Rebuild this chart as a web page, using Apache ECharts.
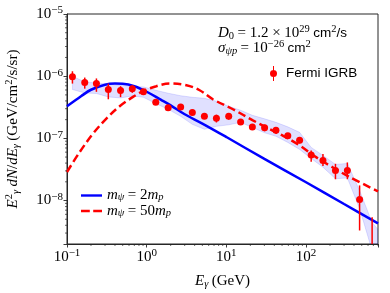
<!DOCTYPE html>
<html><head><meta charset="utf-8">
<script src="https://cdn.jsdelivr.net/npm/echarts@6/dist/echarts.min.js"></script>
<style>html,body{margin:0;padding:0;background:#fff}#c{width:390px;height:293px}</style>
</head><body><div id="c"></div>
<script>
// ---- data ----
const igrbE    = [0.117,0.167,0.234,0.33,0.47,0.66,0.91,1.3,1.86,2.67,3.74,5.3,7.5,10.7,15.1,21.2,30.2,41.9,59,83,116,163,234,330,470,675];
const igrbFlux = [9.8e-7,7.9e-7,7.6e-7,6.1e-7,5.9e-7,6.3e-7,5.6e-7,3.8e-7,3.1e-7,3.2e-7,2.6e-7,2.27e-7,2.1e-7,2.27e-7,1.83e-7,1.52e-7,1.48e-7,1.35e-7,1.1e-7,9.3e-8,5.4e-8,4.4e-8,3.05e-8,3.05e-8,1.04e-8,1.0e-9];
const igrbLow  = [7.6e-7,6.3e-7,5.6e-7,4.25e-7,4.6e-7,5.4e-7,5.0e-7,3.5e-7,2.85e-7,2.9e-7,2.35e-7,2.05e-7,1.8e-7,2.0e-7,1.65e-7,1.38e-7,1.3e-7,1.2e-7,1.0e-7,8.3e-8,4.2e-8,3.6e-8,2.2e-8,2.2e-8,3.3e-9,1e-10];
const igrbHigh = [1.2e-6,9.5e-7,9.2e-7,7.6e-7,6.9e-7,7.1e-7,6.2e-7,4.1e-7,3.4e-7,3.5e-7,2.85e-7,2.5e-7,2.4e-7,2.55e-7,2.0e-7,1.66e-7,1.66e-7,1.5e-7,1.2e-7,1.03e-7,6.4e-8,5.6e-8,3.9e-8,4.1e-8,1.75e-8,5.4e-9];

const bandE    = [0.117,0.167,0.234,0.33,0.47,0.66,0.91,1.3,1.86,2.67,3.74,5.3,7.5,10.7,15.1,21.2,30.2,41.9,59,83,116,163,234,330,470,675,790];
const bandHigh = [1.0e-6,8.09e-7,7.8e-7,7.43e-7,7.16e-7,6.9e-7,6.72e-7,5.94e-7,5.32e-7,4.85e-7,4.58e-7,4.41e-7,3.95e-7,3.28e-7,2.83e-7,2.35e-7,2.06e-7,1.81e-7,1.53e-7,1.25e-7,7.16e-8,5.32e-8,3.81e-8,3.95e-8,1.45e-8,4.41e-9,3.5e-9];
const bandLow  = [6.1e-7,5.38e-7,5.26e-7,4.64e-7,4.47e-7,4.81e-7,4.58e-7,3.63e-7,2.94e-7,2.26e-7,1.68e-7,1.4e-7,1.56e-7,1.65e-7,1.81e-7,1.5e-7,1.23e-7,1.08e-7,8.61e-8,6.65e-8,4.75e-8,3.44e-8,2.24e-8,2.31e-8,7.43e-9,1.56e-9,1.0e-9];

const lightE = [0.1,0.15,0.2,0.3,0.4,0.5,0.7,1,1.5,2,3,5,10,30,100,300,800];
const lightF = [3.28e-7,4.75e-7,6.05e-7,7.3e-7,7.6e-7,7.55e-7,6.9e-7,5.62e-7,4.2e-7,3.4e-7,2.44e-7,1.73e-7,1.05e-7,4.67e-8,1.97e-8,8.8e-9,4.3e-9];

const heavyE = [0.1,0.144,0.212,0.312,0.458,0.673,0.915,1.32,1.94,3.15,4.62,6.77,12.1,21.5,31.7,51.6,83,135,218,353,800];
const heavyF = [2.88e-8,6.0e-8,1.19e-7,2.08e-7,3.28e-7,4.64e-7,5.8e-7,6.9e-7,7.62e-7,7.16e-7,5.94e-7,4.26e-7,2.94e-7,1.95e-7,1.5e-7,1.1e-7,7.7e-8,4.94e-8,3.4e-8,2.38e-8,1.41e-8];

const xMin = 0.1, xMax = 800, yMin = 2e-9, yMax = 1e-5;
const xMinorTicks = [0.2,0.3,0.4,0.5,0.6,0.7,0.8,0.9,2,3,4,5,6,7,8,9,20,30,40,50,60,70,80,90,200,300,400,500,600,700,800];
const yMinorTicks = [3e-9,4e-9,5e-9,6e-9,7e-9,8e-9,9e-9,2e-8,3e-8,4e-8,5e-8,6e-8,7e-8,8e-8,9e-8,2e-7,3e-7,4e-7,5e-7,6e-7,7e-7,8e-7,9e-7,2e-6,3e-6,4e-6,5e-6,6e-6,7e-6,8e-6,9e-6];

const lightName = 'm_ψ = 2m_p';
const heavyName = 'm_ψ = 50m_p';
const igrbName = 'Fermi IGRB';

// ---- styles ----
const SERIF = "'Liberation Serif','DejaVu Serif',serif";
const SANS = "'Liberation Sans','DejaVu Sans',sans-serif";
const AX = '#262626';
function mkRich(fs, lh) {
  const sfs = Math.round(fs * 0.7 * 10) / 10;
  return {
    r:   {fontFamily: SERIF, fontSize: fs, lineHeight: lh, color: '#000'},
    i:   {fontFamily: SERIF, fontSize: fs, lineHeight: lh, fontStyle: 'italic', color: '#000'},
    sup: {fontFamily: SERIF, fontSize: sfs, lineHeight: lh, verticalAlign: 'top', color: '#000'},
    sub: {fontFamily: SERIF, fontSize: sfs, lineHeight: lh, verticalAlign: 'bottom', fontStyle: 'italic', color: '#000'},
    subr:{fontFamily: SERIF, fontSize: sfs, lineHeight: lh, verticalAlign: 'bottom', color: '#000'},
    s:   {fontFamily: SANS, fontSize: fs - 1.5, lineHeight: lh, color: '#000'}
  };
}
const mathRich = mkRich(15, 18);
const legRich = mkRich(15, 15);
const tickRich = {
  b: {fontFamily: SERIF, fontSize: 15, lineHeight: 18, color: '#000'},
  e: {fontFamily: SERIF, fontSize: 11, lineHeight: 18, verticalAlign: 'top', color: '#000'}
};
function powLabel(v) {
  const l = Math.log10(v), r = Math.round(l);
  if (Math.abs(l - r) > 1e-6) return '';
  return '{b|10}{e|' + (r < 0 ? '\u2212' + (-r) : r) + '}';
}

const chart = echarts.init(document.getElementById('c'), null, {renderer: 'canvas'});
chart.setOption({
  animation: false,
  backgroundColor: '#fff',
  grid: {left: 67, right: 12, top: 14, bottom: 49, show: true, borderColor: AX, borderWidth: 1, backgroundColor: 'transparent', outerBoundsMode: 'none'},
  xAxis: {
    type: 'log', logBase: 10, min: xMin, max: xMax,
    axisLine: {show: true, lineStyle: {color: AX, width: 1}},
    axisTick: {show: true, length: 3.5, lineStyle: {color: AX, width: 0.9}},
    splitLine: {show: false},
    axisLabel: {formatter: powLabel, rich: tickRich, margin: 4, showMinLabel: true, showMaxLabel: true},
    name: '{i|E}{sub|γ} {r|(GeV)}', nameLocation: 'middle', nameGap: 28,
    nameTextStyle: {rich: mathRich}
  },
  yAxis: {
    type: 'log', logBase: 10, min: yMin, max: yMax,
    axisLine: {show: true, lineStyle: {color: AX, width: 1}},
    axisTick: {show: true, length: 3.5, lineStyle: {color: AX, width: 0.9}},
    splitLine: {show: false},
    axisLabel: {formatter: powLabel, rich: tickRich, margin: 4},
    name: '{i|E}{sup|2}{sub|γ} {i|dN}{r|/}{i|dE}{sub|γ} {r|(GeV/cm}{sup|2}{r|/s/sr)}',
    nameLocation: 'middle', nameRotate: 90, nameGap: 45,
    nameTextStyle: {rich: mathRich}
  },
  legend: [
    {
      data: [igrbName], left: 270, top: 66, itemWidth: 7, itemHeight: 15, padding: 0,
      icon: 'path://M3,0L4,0L4,15L3,15Z M0,7.5A3.5,3.5 0 1 1 7,7.5A3.5,3.5 0 1 1 0,7.5Z',
      textStyle: {fontFamily: SANS, fontSize: 13.5, color: '#000', padding: [0, 0, 0, 4]},
      itemStyle: {color: '#ff0000'}
    },
    {
      data: [
        {name: lightName, icon: 'path://M0,0L22,0L22,2.5L0,2.5Z'},
        {name: heavyName, icon: 'path://M0,0L9,0L9,2.5L0,2.5Z M12.5,0L21.5,0L21.5,2.5L12.5,2.5Z'}
      ],
      orient: 'vertical', left: 81, top: 188, itemWidth: 21, itemHeight: 2.5, itemGap: 0.5, padding: 0,
      formatter: function (n) {
        return n === lightName ? '{i|m}{sub|ψ} {r|= 2}{i|m}{sub|p}' : '{i|m}{sub|ψ} {r|= 50}{i|m}{sub|p}';
      },
      textStyle: {rich: legRich, lineHeight: 15}
    }
  ],
  graphic: [
    {type: 'text', left: 218, top: 24, style: {text: '{i|D}{subr|0} {r|= 1.2 × 10}{sup|29} {s|cm}{sup|2}{s|/s}', rich: mathRich}},
    {type: 'text', left: 218, top: 39, style: {text: '{i|σ}{sub|ψp} {r|= 10}{sup|\u221226} {s|cm}{sup|2}', rich: mathRich}}
  ],
  series: [
    {
      type: 'custom', name: 'band', silent: true, clip: true, z: 1,
      data: [[bandE[0], bandHigh[0]]],
      renderItem: function (params, api) {
        const pts = [];
        for (let i = 0; i < bandE.length; i++) pts.push(api.coord([bandE[i], bandHigh[i]]));
        for (let i = bandE.length - 1; i >= 0; i--) pts.push(api.coord([bandE[i], bandLow[i]]));
        return {type: 'polygon', shape: {points: pts}, style: {fill: 'rgba(0,0,255,0.12)', stroke: 'rgba(0,0,255,0.12)', lineWidth: 1}};
      }
    },
    {
      type: 'line', name: lightName, data: lightE.map((e, i) => [e, lightF[i]]),
      symbol: 'none', smooth: 0.35, clip: true, z: 3,
      lineStyle: {color: '#0000ff', width: 2.5}, itemStyle: {color: '#0000ff'}
    },
    {
      type: 'line', name: heavyName, data: heavyE.map((e, i) => [e, heavyF[i]]),
      symbol: 'none', smooth: 0.35, clip: true, z: 3,
      lineStyle: {color: '#ff0000', width: 2.5, type: [8, 4]}, itemStyle: {color: '#ff0000'}
    },
    {
      type: 'custom', name: 'errbars', silent: true, clip: true, z: 4,
      data: igrbE.map((e, i) => [e, igrbLow[i], igrbHigh[i]]),
      encode: {x: 0, y: [1, 2]},
      renderItem: function (params, api) {
        const a = api.coord([api.value(0), api.value(1)]);
        const b = api.coord([api.value(0), api.value(2)]);
        return {type: 'line', shape: {x1: a[0], y1: a[1], x2: b[0], y2: b[1]}, style: {stroke: '#ff0000', lineWidth: 1.5}};
      }
    },
    {
      type: 'scatter', name: igrbName, data: igrbE.map((e, i) => [e, igrbFlux[i]]),
      symbol: 'circle', symbolSize: 7, clip: true, z: 5,
      itemStyle: {color: '#ff0000', opacity: 1}
    },
    {
      type: 'custom', name: 'xminor', silent: true, clip: false, z: 6,
      data: xMinorTicks.map(v => [v, yMin]),
      renderItem: function (params, api) {
        const p = api.coord([api.value(0), yMin]);
        return {type: 'line', shape: {x1: p[0], y1: p[1], x2: p[0], y2: p[1] + 2}, style: {stroke: AX, lineWidth: 0.7}};
      }
    },
    {
      type: 'custom', name: 'yminor', silent: true, clip: false, z: 6,
      data: yMinorTicks.map(v => [xMin, v]),
      renderItem: function (params, api) {
        const p = api.coord([xMin, api.value(1)]);
        return {type: 'line', shape: {x1: p[0], y1: p[1], x2: p[0] - 2, y2: p[1]}, style: {stroke: AX, lineWidth: 0.7}};
      }
    }
  ]
});
</script>
</body></html>
